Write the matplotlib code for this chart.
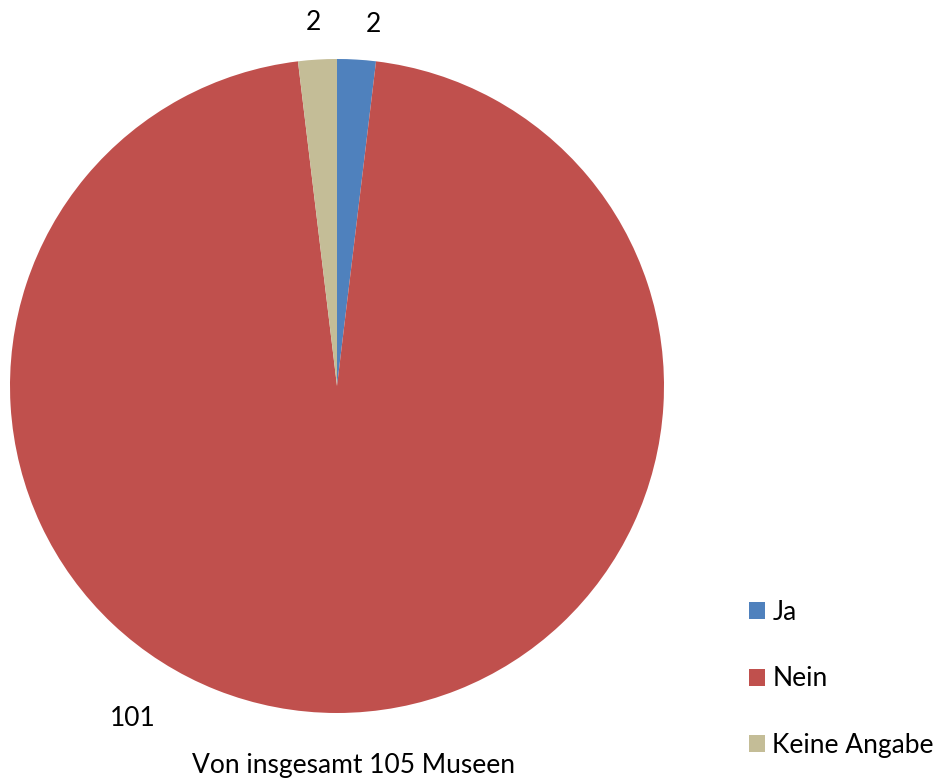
import matplotlib
matplotlib.use('Agg')
import matplotlib.pyplot as plt
from matplotlib.patches import Patch

plt.rcParams['font.family'] = ['Lato', 'DejaVu Sans']

categories = ['Ja', 'Nein', 'Keine Angabe']
values = [2, 101, 2]
colors = ['#4F81BD', '#C0504D', '#C4BD97']
caption = 'Von insgesamt 105 Museen'

W, H = 944, 780
fig = plt.figure(figsize=(W / 100, H / 100), dpi=100)
ax = fig.add_axes([0, 0, 1, 1])

wedges, texts = ax.pie(values, labels=[str(v) for v in values], colors=colors,
                       startangle=90, counterclock=False,
                       center=(337, H - 386), radius=327, frame=True,
                       textprops=dict(fontsize=19, color='black'))
ax.set_xlim(0, W)
ax.set_ylim(0, H)
ax.axis('off')

# label positions (pixel coords, y from top)
label_pos = [(373, 25), (133, 718), (313, 22)]
for t, (x, y) in zip(texts, label_pos):
    t.set_position((x, H - y))
    t.set_ha('center')
    t.set_va('center')

ax.text(353, H - 766, caption, ha='center', va='center', fontsize=19)

handles = [Patch(facecolor=c, edgecolor='none') for c in colors]
fig.legend(handles, categories, loc='upper left', bbox_to_anchor=(749 / W, 1 - 600 / H),
           frameon=False, fontsize=19, handlelength=0.6, handleheight=0.6,
           handletextpad=0.28, labelspacing=1.57, borderaxespad=0, borderpad=0)

fig.savefig('out.png', dpi=100)
